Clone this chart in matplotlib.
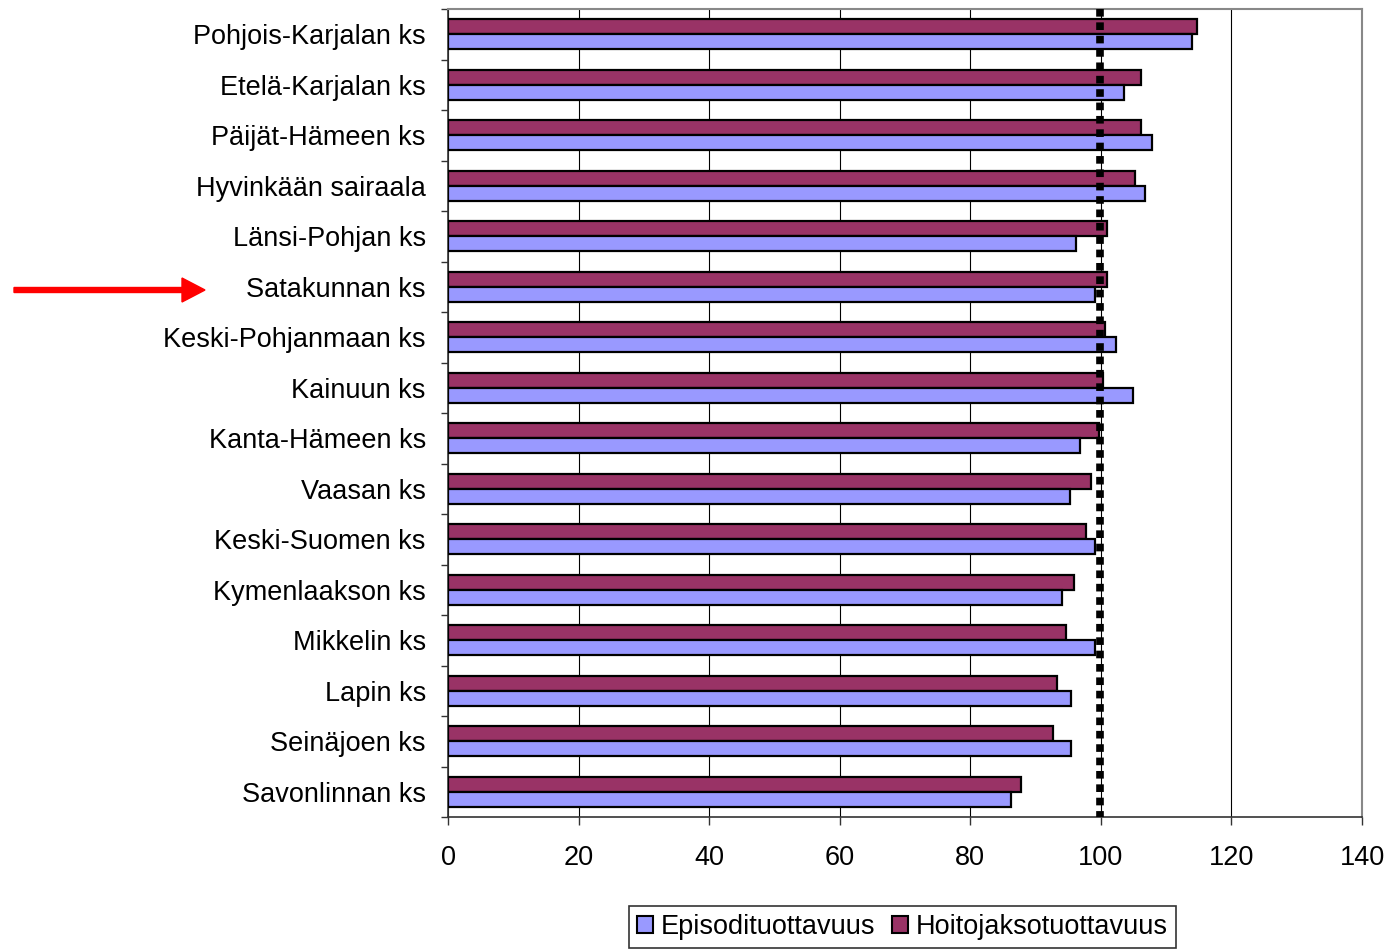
import numpy as np
import matplotlib.pyplot as plt
from matplotlib.patches import Patch, FancyArrow

plt.rcParams['font.family'] = ['Liberation Sans', 'DejaVu Sans']

categories = ['Pohjois-Karjalan ks', 'Etelä-Karjalan ks', 'Päijät-Hämeen ks',
              'Hyvinkään sairaala', 'Länsi-Pohjan ks', 'Satakunnan ks',
              'Keski-Pohjanmaan ks', 'Kainuun ks', 'Kanta-Hämeen ks', 'Vaasan ks',
              'Keski-Suomen ks', 'Kymenlaakson ks', 'Mikkelin ks', 'Lapin ks',
              'Seinäjoen ks', 'Savonlinnan ks']
episodi = [114.0, 103.6, 107.8, 106.8, 96.2, 99.1, 102.3, 104.9,
           96.8, 95.2, 99.1, 94.0, 99.1, 95.5, 95.5, 86.2]
hoitojakso = [114.7, 106.2, 106.2, 105.3, 101.0, 101.0, 100.7, 100.4,
              99.7, 98.5, 97.8, 95.9, 94.6, 93.3, 92.7, 87.8]
reference_level = 99.8
xticks = [0, 20, 40, 60, 80, 100, 120, 140]

c_epi = '#9999FF'
c_hoi = '#993366'
fs = 19.5

fig = plt.figure(figsize=(13.92, 9.52), dpi=100)
ax = fig.add_axes([448 / 1392, 1 - 817 / 952, (1362 - 448) / 1392, (817 - 9) / 952])

y = np.arange(len(categories))
h = 0.3
ax.barh(y - h / 2, hoitojakso, height=h, color=c_hoi, edgecolor='black', linewidth=1.6, zorder=3)
ax.barh(y + h / 2, episodi, height=h, color=c_epi, edgecolor='black', linewidth=1.6, zorder=3)

# dotted reference line at 100
ax.plot([reference_level, reference_level], [-0.5, 15.5], color='black', linewidth=5.5,
        linestyle=(0, (1, 0.75)), zorder=4, solid_capstyle='butt')

ax.set_xlim(0, 140)
ax.set_ylim(15.5, -0.5)
ax.set_xticks(xticks)
ax.set_xticklabels([str(t) for t in xticks], fontsize=fs)
ax.set_yticks(y)
ax.set_yticklabels(categories, fontsize=fs, va='center_baseline')
ax.set_yticks(np.arange(-0.5, 16, 1), minor=True)
ax.tick_params(axis='y', which='major', length=0, pad=16)
ax.tick_params(axis='y', which='minor', length=5, width=1, color='#333333')
ax.tick_params(axis='x', which='major', length=6, width=1, pad=14, color='#333333')
ax.grid(axis='x', color='black', linewidth=0.8, zorder=0)

for side in ['top', 'right']:
    ax.spines[side].set_color('#888888')
    ax.spines[side].set_linewidth(1.5)
for side in ['left', 'bottom']:
    ax.spines[side].set_color('#333333')
    ax.spines[side].set_linewidth(1.2)

handles = [Patch(facecolor=c_epi, edgecolor='black', linewidth=1.5, label='Episodituottavuus'),
           Patch(facecolor=c_hoi, edgecolor='black', linewidth=1.5, label='Hoitojaksotuottavuus')]
leg = fig.legend(handles=handles, loc='upper center', bbox_to_anchor=(902.5 / 1392, 1 - 906 / 952),
                 ncol=2, fontsize=fs, frameon=True, fancybox=False, edgecolor='black',
                 handlelength=0.6, handleheight=0.6, handletextpad=0.3, columnspacing=0.6,
                 borderpad=0.3, borderaxespad=0)
leg.get_frame().set_linewidth(1.2)

# red arrow pointing at Satakunnan ks
arrow = FancyArrow(14 / 1392, 1 - 290 / 952, (205 - 14) / 1392, 0, width=5 / 952,
                   head_width=24 / 952, head_length=23 / 1392, length_includes_head=True,
                   color='#FF0000', transform=fig.transFigure, figure=fig)
fig.patches.append(arrow)

fig.savefig('out.png', dpi=100)
